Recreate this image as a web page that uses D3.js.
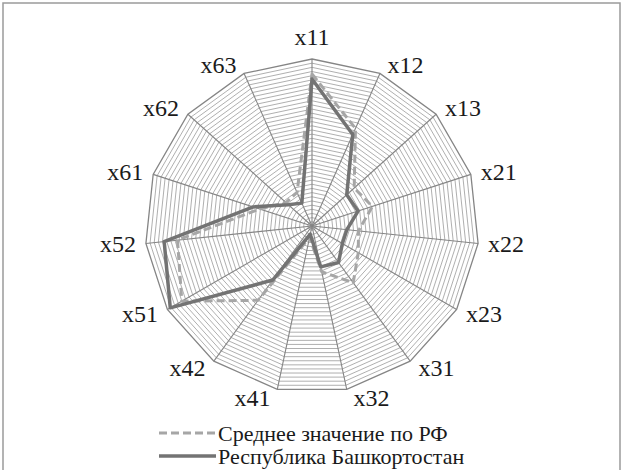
<!DOCTYPE html>
<html>
<head>
<meta charset="utf-8">
<script src="https://cdn.jsdelivr.net/npm/d3@7"></script>
<style>
  body { margin: 0; background: #fff; }
  svg text { font-family: "Liberation Serif", "DejaVu Serif", "Times New Roman", serif; }
</style>
</head>
<body>
<svg></svg>
<script>
let width = 623, height = 470;

// axis labels, clockwise from top
let axes = ["x11", "x12", "x13", "x21", "x22", "x23", "x31", "x32",
            "x41", "x42", "x51", "x52", "x61", "x62", "x63"];

// values (0..1)
let avgRF = [0.91, 0.64, 0.34, 0.38, 0.28, 0.32, 0.42, 0.28,
             0.07, 0.55, 0.90, 0.81, 0.33, 0.21, 0.22];
let bashkortostan = [0.88, 0.60, 0.28, 0.29, 0.21, 0.21, 0.27, 0.25,
                     0.05, 0.40, 0.98, 0.89, 0.37, 0.19, 0.15];

let seriesNames = ["Среднее значение по РФ", "Республика Башкортостан"];
let gridSteps = d3.range(1, 41).map(i => i / 40);

let svg = d3.select("svg")
    .attr("width", width)
    .attr("height", height);

// outer frame
svg.append("rect")
    .attr("x", 3).attr("y", 3)
    .attr("width", width - 6).attr("height", height + 10)
    .attr("fill", "none")
    .attr("stroke", "#9a9a9a")
    .attr("stroke-width", 1.5);

let cx = 312, cy = 226, R = 167;
let r = d3.scaleLinear().domain([0, 1]).range([0, R]);
let angle = d3.scalePoint().domain(axes).range([0, 2 * Math.PI * (axes.length - 1) / axes.length]);

let pt = (a, v) => [cx + r(v) * Math.sin(angle(a)), cy - r(v) * Math.cos(angle(a))];

let g = svg.append("g");

// rings
g.selectAll("path.ring")
    .data(gridSteps)
    .enter()
    .append("path")
    .attr("class", "ring")
    .attr("d", v => d3.line()(axes.map(a => pt(a, v))) + "Z")
    .attr("fill", "none")
    .attr("stroke", v => v === 1 ? "#858585" : "#a0a0a0")
    .attr("stroke-width", v => v === 1 ? 1.3 : 0.85);

// spokes
g.selectAll("line.spoke")
    .data(axes)
    .enter()
    .append("line")
    .attr("x1", cx).attr("y1", cy)
    .attr("x2", a => pt(a, 1)[0])
    .attr("y2", a => pt(a, 1)[1])
    .attr("stroke", "#858585")
    .attr("stroke-width", 1.1);

// axis labels: sit beside the outer vertex, top one above it
let labelX = a => {
    let s = Math.sin(angle(a));
    let off = Math.abs(s) < 0.01 ? 0 : Math.sign(s) * (24 + 4 * Math.abs(s));
    return pt(a, 1)[0] + off;
};
let labelY = a => {
    let s = Math.sin(angle(a)), c = Math.cos(angle(a));
    if (Math.abs(s) < 0.01) return pt(a, 1)[1] - 22;
    return pt(a, 1)[1] - c * 9;
};

g.selectAll("text.lab")
    .data(axes)
    .enter()
    .append("text")
    .attr("class", "lab")
    .attr("x", labelX)
    .attr("y", labelY)
    .attr("text-anchor", "middle")
    .attr("dominant-baseline", "central")
    .attr("font-size", 24)
    .attr("fill", "#1a1a1a")
    .text(a => a);

// series
let lineGen = vals => d3.line()(axes.map((a, i) => pt(a, vals[i]))) + "Z";

svg.append("path")
    .attr("d", lineGen(avgRF))
    .attr("fill", "none")
    .attr("stroke", "#a6a6a6")
    .attr("stroke-width", 3)
    .attr("stroke-dasharray", "8,4")
    .attr("stroke-linejoin", "round");

svg.append("path")
    .attr("d", lineGen(bashkortostan))
    .attr("fill", "none")
    .attr("stroke", "#737373")
    .attr("stroke-width", 3.5)
    .attr("stroke-linejoin", "round");

// legend
let legend = svg.append("g");
let styles = [
    {stroke: "#a6a6a6", dash: "8,4", w: 3},
    {stroke: "#737373", dash: null, w: 3.5}
];
seriesNames.forEach((name, i) => {
    let y = 433 + i * 23;
    legend.append("line")
        .attr("x1", 159).attr("x2", 216)
        .attr("y1", y).attr("y2", y)
        .attr("stroke", styles[i].stroke)
        .attr("stroke-width", styles[i].w)
        .attr("stroke-dasharray", styles[i].dash);
    legend.append("text")
        .attr("x", 218).attr("y", y)
        .attr("dominant-baseline", "central")
        .attr("font-size", 22)
        .attr("fill", "#1a1a1a")
        .text(name);
});
</script>
</body>
</html>
